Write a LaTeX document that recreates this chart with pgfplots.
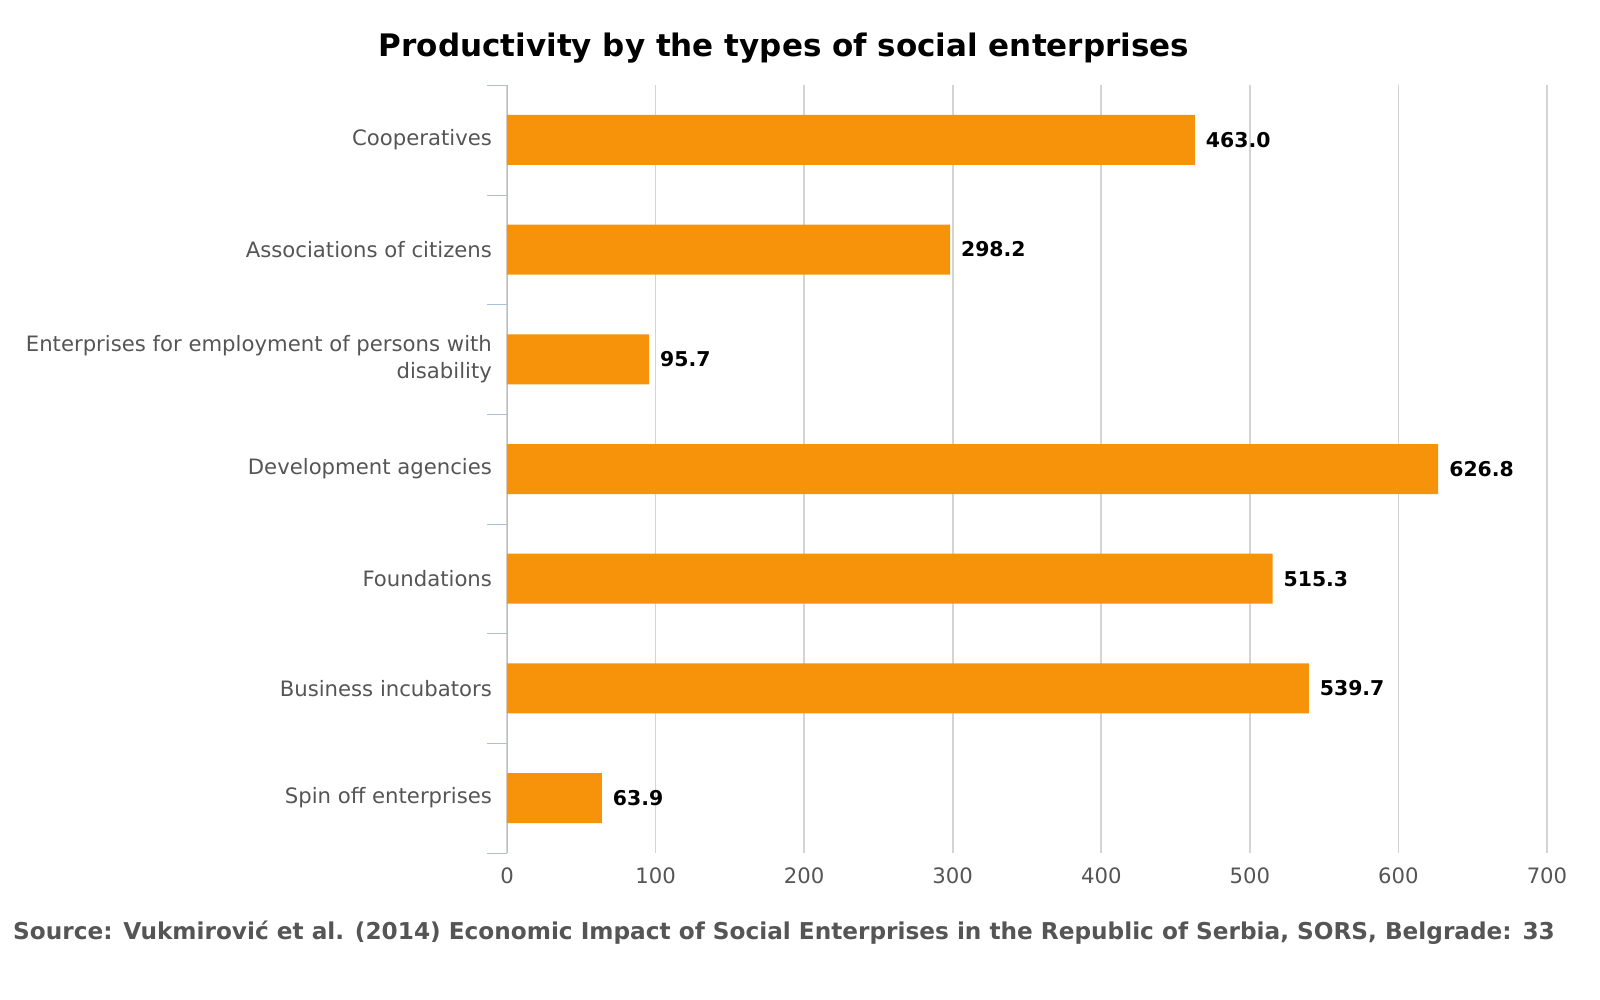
\documentclass[border=0pt]{standalone}
\usepackage{pgfplots}
\pgfplotsset{compat=1.18}
\usepackage{fontspec}
\setmainfont{DejaVu Sans}
\definecolor{bar}{HTML}{F7930A}
\definecolor{lab}{HTML}{555555}
\definecolor{ax}{HTML}{A9C1D9}
\begin{document}
\begin{tikzpicture}
\begin{axis}[
  scale only axis, width=520pt, height=384pt,
  xbar, bar width=25pt,
  xmin=0, xmax=700, xtick={0,100,...,700},
  ymin=-0.5, ymax=6.5, y dir=reverse,
  ytick={0,...,6},
  yticklabels={Cooperatives,Associations of citizens,{Enterprises for employment of persons with\\disability},Development agencies,Foundations,Business incubators,Spin off enterprises},
  yticklabel style={align=right, font=\fontsize{10.6}{13.5}\selectfont, text=lab, xshift=-4pt},
  xticklabel style={font=\fontsize{10.6}{12}\selectfont, text=lab, yshift=-4pt},
  /pgf/number format/assume math mode=true,
  axis lines*=left,
  x axis line style={draw=none},
  y axis line style={draw=ax},
  major tick length=0pt,
  minor ytick={-0.5,0.5,...,6.5},
  minor tick length=10pt,
  tick align=outside,
  minor tick style={draw=ax},
  xmajorgrids, grid style={draw=black!17, line width=0.8pt},
  nodes near coords, point meta=explicit symbolic,
  every node near coord/.append style={font=\bfseries\fontsize{10.2}{12}\selectfont, black, anchor=west, xshift=2pt},
  clip=false,
]
\addplot[fill=bar, draw=none] coordinates {
(463.0,0) [463.0] (298.2,1) [298.2] (95.7,2) [95.7] (626.8,3) [626.8]
(515.3,4) [515.3] (539.7,5) [539.7] (63.9,6) [63.9]};
\coordinate (sw) at (rel axis cs:0,0);
\end{axis}
\node[anchor=base, font=\bfseries\fontsize{15.5}{19}\selectfont] at ([shift={(138.5pt,398pt)}]sw) {Productivity by the types of social enterprises};
\node[anchor=base, text=lab, font=\bfseries\fontsize{11.6}{14}\selectfont] at ([shift={(138.5pt,-43.5pt)}]sw) {Source: Vukmirović et al. (2014) Economic Impact of Social Enterprises in the Republic of Serbia, SORS, Belgrade: 33};
\pgfresetboundingbox
\path ([shift={(-253.5pt,-73.5pt)}]sw) rectangle ([shift={(546.5pt,426.5pt)}]sw);
\end{tikzpicture}
\end{document}
